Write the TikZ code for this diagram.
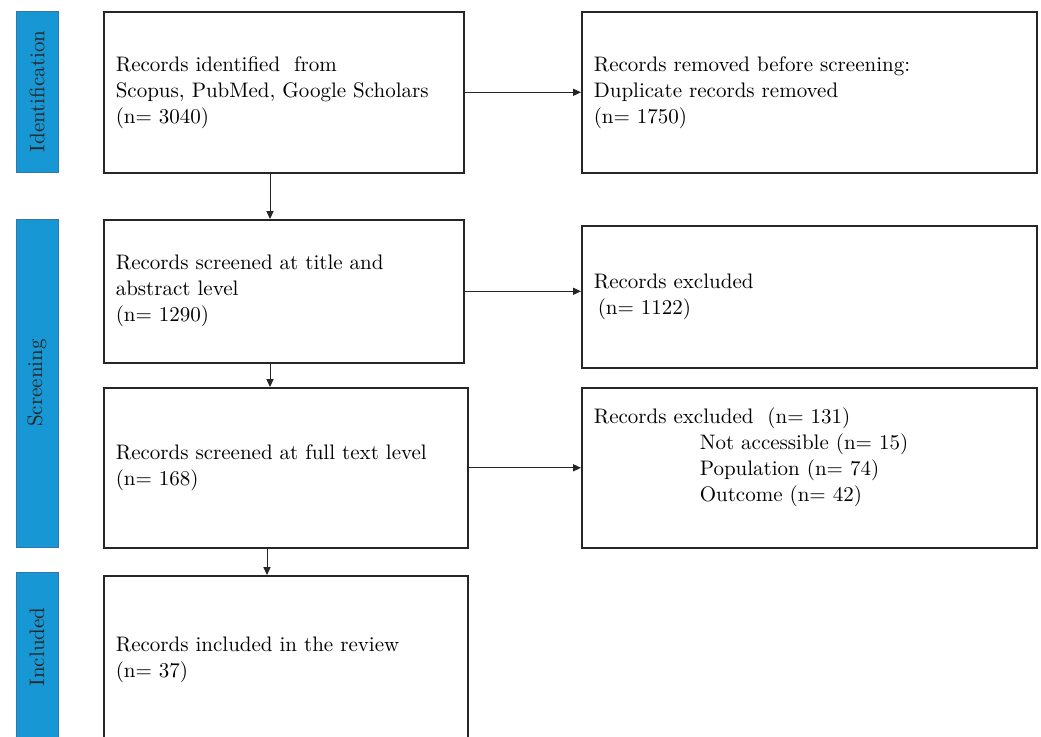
\documentclass[tikz,border=0pt]{standalone}
\usepackage{tikz}
\usetikzlibrary{arrows.meta,positioning}
\definecolor{phaseblue}{RGB}{23,152,212}
\definecolor{phaseedge}{RGB}{52,118,170}

\begin{document}
\begin{tikzpicture}[
      x=0.5pt, y=-0.5pt,
      box/.style={rectangle, draw=black!85, line width=0.8pt, anchor=north west,
                  text width=#1, align=left, inner xsep=6pt, inner ysep=0pt,
                  font=\fontsize{10.5}{13}\selectfont},
      box/.default=168pt,
      phase/.style={rectangle, fill=phaseblue, draw=phaseedge, line width=0.4pt,
                    rotate=90, minimum height=21pt, inner sep=0pt,
                    font=\fontsize{10.5}{13}\selectfont, text=black!85},
      arr/.style={-{Triangle[length=4pt,width=3.6pt]}, line width=0.5pt, black!85},
    ]
    \useasboundingbox (0,0) rectangle (1041,736);

    % phase bars
    \node[phase, minimum width=80.5pt] (ident) at (37,91.5) {Identification};
    \node[phase, minimum width=164pt] (screen) at (37,383) {Screening};
    \node[phase, minimum width=94pt] (incl) at (37,666) {};
    \node[font=\fontsize{10.5}{13}\selectfont, text=black!85, rotate=90,
          inner sep=0pt] (incltext) at (37,647) {Included};

    % main column
    \node[box, minimum height=80.5pt] (ident1) at (103,11)
      {Records identified\ \ from\\Scopus, PubMed, Google Scholars\\(n= 3040)};
    \node[box, minimum height=71.5pt] (screen1) at (103,219)
      {Records screened at title and\\abstract level\\(n= 1290)};
    \node[box=170pt, minimum height=80pt] (screen2) at (103,387)
      {Records screened at full text level\\(n= 168)};
    \node[box=170pt, minimum height=84pt] (incl1) at (103,575)
      {Records included in the review\\(n= 37)};

    % side column
    \node[box=215.5pt, minimum height=80.5pt] (removed) at (581,11)
      {Records removed before screening:\\Duplicate records removed\\(n= 1750)};
    \node[box=215.5pt, minimum height=71pt] (excl1) at (581,225)
      {Records excluded\\\hspace*{2pt}(n= 1122)};
    \node[box=215.5pt, minimum height=80pt] (excl2) at (581,387)
      {Records excluded\ \ (n= 131)\\
       \hspace*{53pt}Not accessible (n= 15)\\
       \hspace*{53pt}Population (n= 74)\\
       \hspace*{53pt}Outcome (n= 42)\\\mbox{}};

    \coordinate (d1) at (270,0);
    \coordinate (d2) at (267,0);

    \draw[arr] (ident1.south -| d1) -- (screen1.north -| d1);
    \draw[arr] (screen1.south -| d1) -- (screen2.north -| d1);
    \draw[arr] (screen2.south -| d2) -- (incl1.north -| d2);

    \draw[arr] (ident1) -- (removed);
    \draw[arr] (screen1.east) -- (screen1.east -| excl1.west);
    \draw[arr] (screen2) -- (excl2);
  \end{tikzpicture}
\end{document}
